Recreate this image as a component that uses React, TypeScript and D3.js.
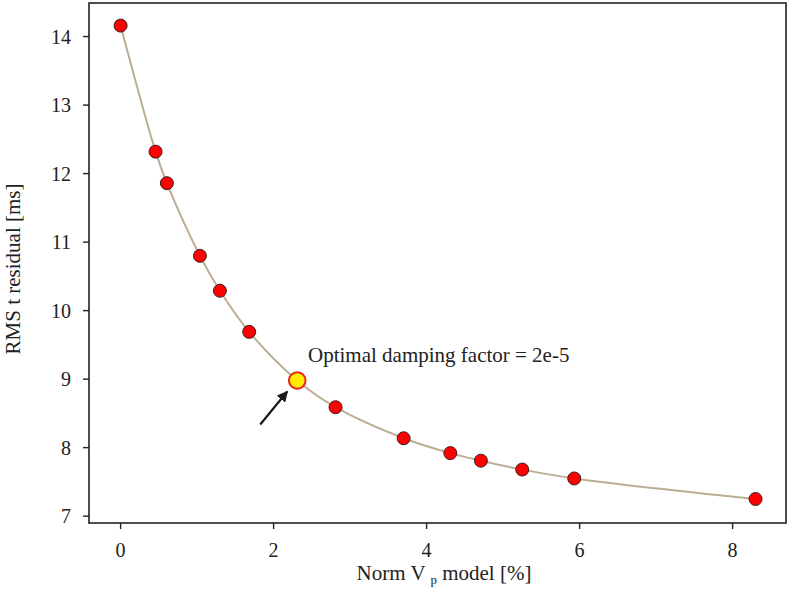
import React from "react";
import * as d3 from "d3";

const normVp = [0.0, 0.457, 0.605, 1.037, 1.298, 1.681, 2.309, 2.81, 3.70, 4.31, 4.71, 5.25, 5.93, 8.30];
const rmsResidual = [14.16, 12.32, 11.86, 10.80, 10.29, 9.69, 8.98, 8.59, 8.137, 7.92, 7.81, 7.68, 7.55, 7.25];
const optimalIndex = 6;
const xTicks = [0, 2, 4, 6, 8];
const yTicks = [7, 8, 9, 10, 11, 12, 13, 14];
const annotationText = "Optimal damping factor = 2e-5";

const W = 790;
const H = 611;
const left = 89, right = 786, top = 3, bottom = 523;
const font = "'Liberation Serif', 'Times New Roman', serif";

export default function App() {
  const x = d3.scaleLinear().domain([-0.413, 8.698]).range([left, right]);
  const y = d3.scaleLinear().domain([6.9, 14.49]).range([bottom, top]);
  const pts = normVp.map((v, i) => [v, rmsResidual[i]] as [number, number]);
  const line = d3
    .line<[number, number]>()
    .x((d) => x(d[0]))
    .y((d) => y(d[1]))
    .curve(d3.curveCatmullRom.alpha(0.5));
  const opt = pts[optimalIndex];
  const ox = x(opt[0]);
  const oy = y(opt[1]);
  const ax1 = ox - 37, ay1 = oy + 44;
  const ax2 = ox - 10, ay2 = oy + 11;

  return (
    <svg
      width={W}
      height={H}
      style={{ position: "absolute", left: 0, top: 0, background: "#fff" }}
    >
      <defs>
        <marker id="ah" viewBox="0 0 10 10" refX="9" refY="5" markerWidth="5" markerHeight="5" orient="auto">
          <path d="M0,0 L10,5 L0,10 z" fill="#1a1a1a" />
        </marker>
      </defs>
      <rect x={left} y={top} width={right - left} height={bottom - top} fill="none" stroke="#222" strokeWidth={1.6} />
      {yTicks.map((t) => (
        <g key={"y" + t}>
          <line x1={left - 6} x2={left} y1={y(t)} y2={y(t)} stroke="#222" strokeWidth={1.4} />
          <text x={71} y={y(t)} dy="0.35em" textAnchor="end" fontFamily={font} fontSize={20} fill="#222">
            {t}
          </text>
        </g>
      ))}
      {xTicks.map((t) => (
        <g key={"x" + t}>
          <line x1={x(t)} x2={x(t)} y1={bottom} y2={bottom + 6} stroke="#222" strokeWidth={1.4} />
          <text x={x(t)} y={557} textAnchor="middle" fontFamily={font} fontSize={20} fill="#222">
            {t}
          </text>
        </g>
      ))}
      <path d={line(pts) || ""} fill="none" stroke="#bcae95" strokeWidth={2} />
      {pts.map((p, i) =>
        i === optimalIndex ? null : (
          <circle key={i} cx={x(p[0])} cy={y(p[1])} r={6.5} fill="#ff0000" stroke="#3a2020" strokeWidth={1} />
        )
      )}
      <circle cx={ox} cy={oy} r={8.3} fill="#ffee00" stroke="#ee1c1c" strokeWidth={2} />
      <line x1={ax1} y1={ay1} x2={ax2} y2={ay2} stroke="#1a1a1a" strokeWidth={2.2} markerEnd="url(#ah)" />
      <text x={308} y={362} fontFamily={font} fontSize={21} fill="#222">
        {annotationText}
      </text>
      <text x={444} y={580} textAnchor="middle" fontFamily={font} fontSize={21} fill="#222" xmlSpace="preserve">
        {"Norm V "}
        <tspan dy="4" fontSize={13}>p</tspan>
        <tspan dy="-4">{" model [%]"}</tspan>
      </text>
      <text
        transform={`translate(20,269) rotate(-90)`}
        textAnchor="middle"
        fontFamily={font}
        fontSize={21}
        fill="#222"
      >
        RMS t residual [ms]
      </text>
    </svg>
  );
}
